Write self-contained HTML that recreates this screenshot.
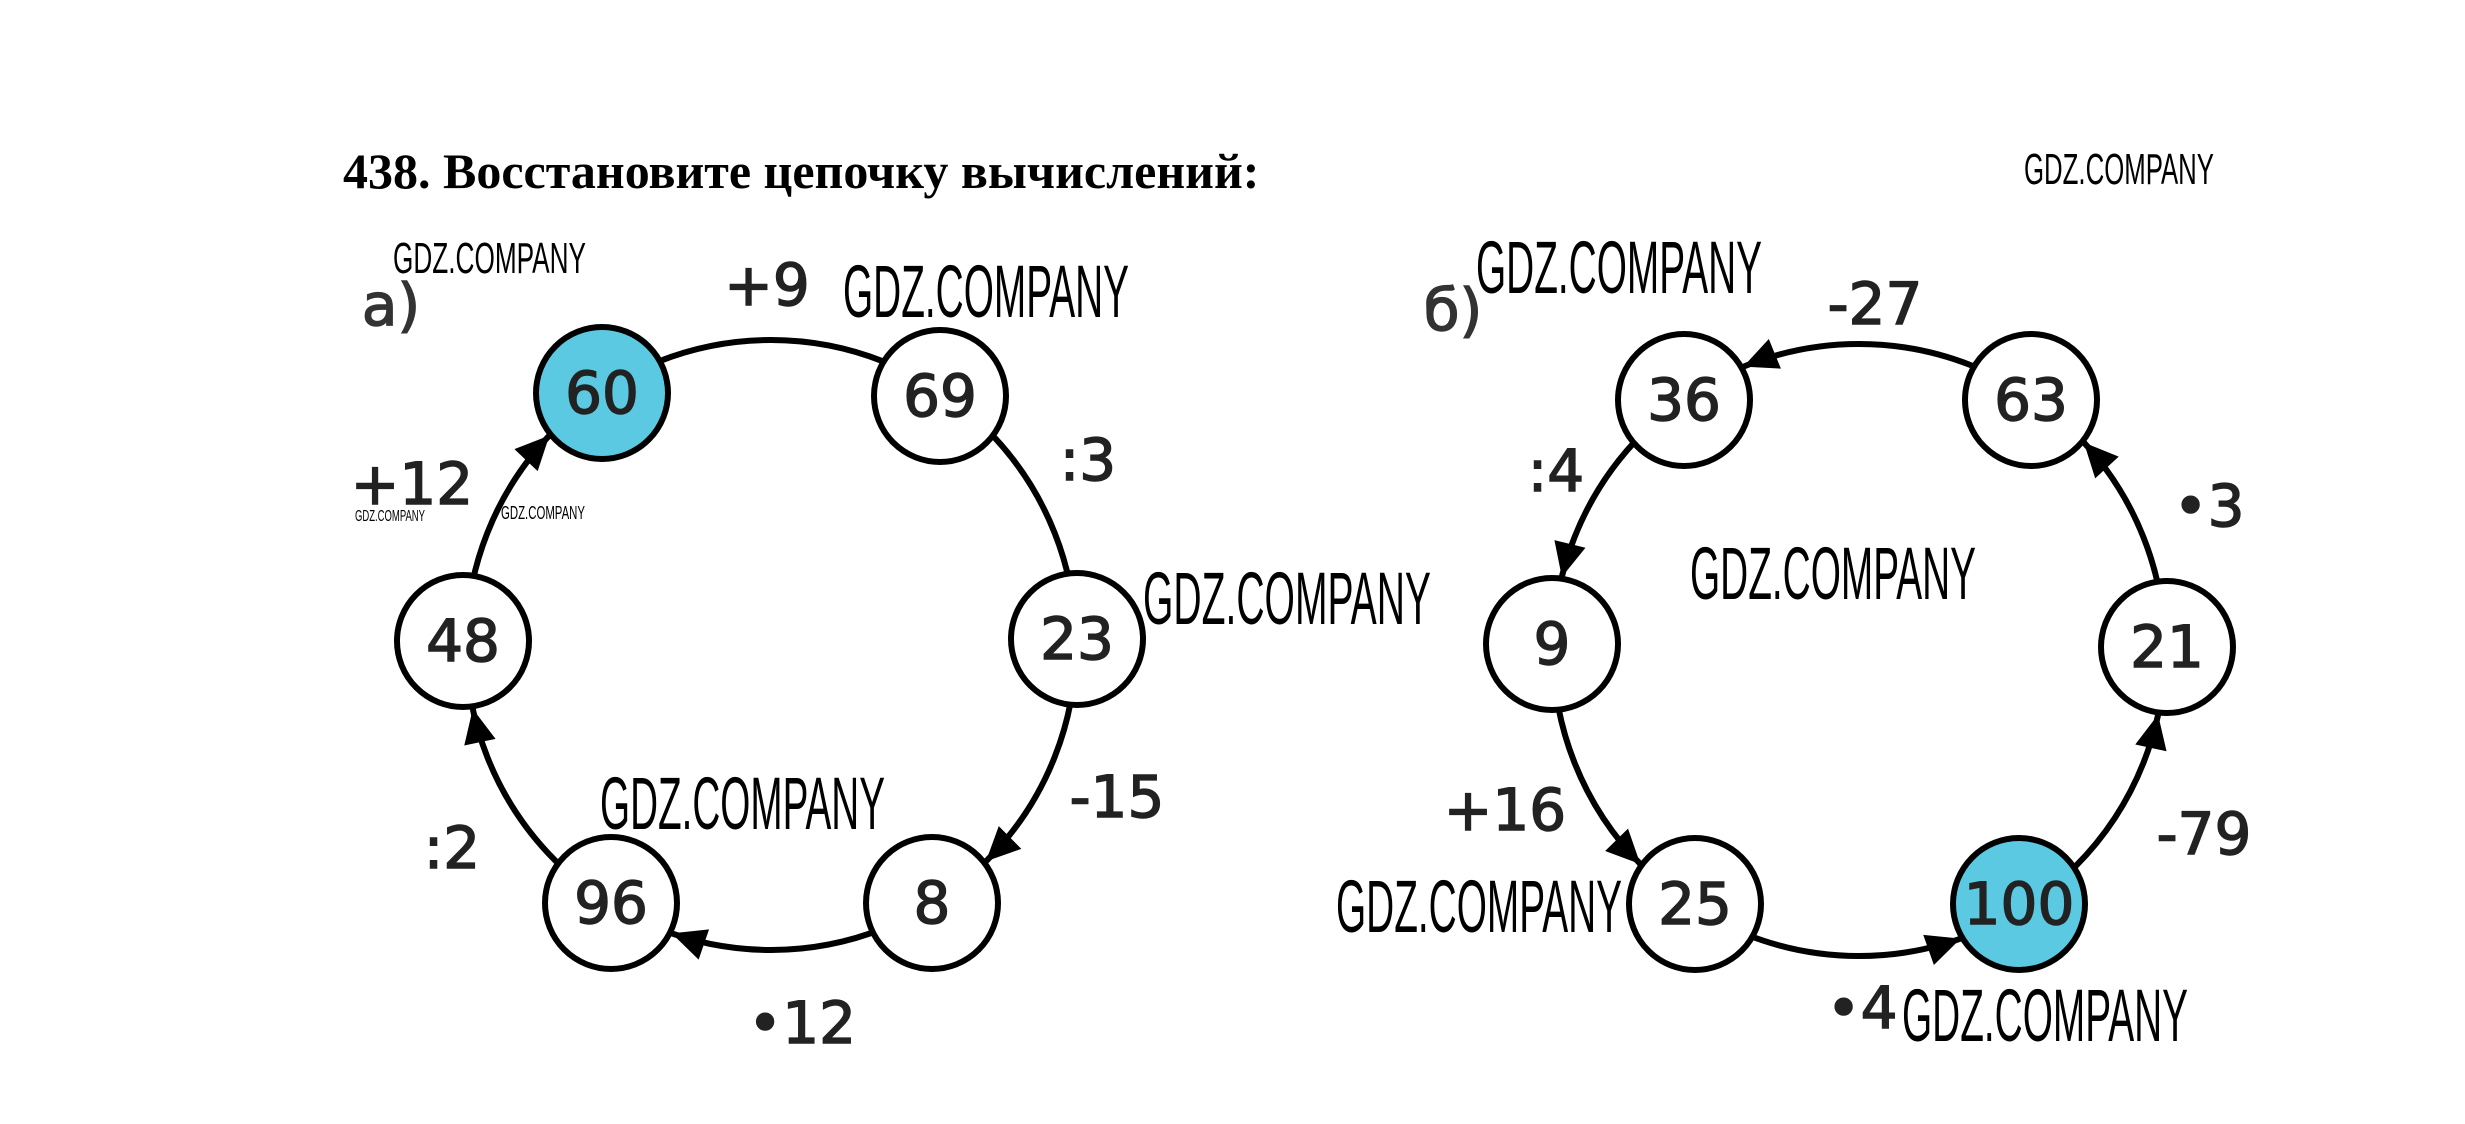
<!DOCTYPE html>
<html><head><meta charset="utf-8"><style>
html,body{margin:0;padding:0;background:#fff;}
svg{display:block}
</style></head><body>
<svg width="2465" height="1124" viewBox="0 0 2465 1124" xmlns="http://www.w3.org/2000/svg">
<rect width="2465" height="1124" fill="#fff"/>
<text x="343" y="188" font-family="Liberation Serif, serif" font-weight="bold" font-size="50" fill="#000">438. Восстановите цепочку вычислений:</text>

<g transform="translate(-9,-5)">
<circle cx="780" cy="650" r="305" fill="none" stroke="#000" stroke-width="6"/>
<g fill="#000">
<polygon points="1085,650 1069,616 1101,616" transform="rotate(-43 780 650)"/>
<polygon points="1085,650 1069,616 1101,616" transform="rotate(11.7 780 650)"/>
<polygon points="1085,650 1069,616 1101,616" transform="rotate(45.2 780 650)"/>
<polygon points="1085,650 1069,616 1101,616" transform="rotate(109 780 650)"/>
<polygon points="1085,650 1069,616 1101,616" transform="rotate(167.9 780 650)"/>
<polygon points="1085,650 1069,616 1101,616" transform="rotate(223.4 780 650)"/>
</g>
<g stroke="#000" stroke-width="6">
<circle cx="611" cy="398" r="66" fill="#5cc9e2"/>
<circle cx="949" cy="401" r="66" fill="#fff"/>
<circle cx="1086" cy="644" r="66" fill="#fff"/>
<circle cx="941" cy="908" r="66" fill="#fff"/>
<circle cx="620" cy="908" r="66" fill="#fff"/>
<circle cx="472" cy="646" r="66" fill="#fff"/>
</g>
<g font-family="DejaVu Sans, sans-serif" font-size="58" text-anchor="middle" fill="#222" stroke="#222" stroke-width="1.5">
<text x="611" y="418">60</text>
<text x="949" y="421">69</text>
<text x="1086" y="664">23</text>
<text x="941" y="928">8</text>
<text x="620" y="928">96</text>
<text x="472" y="666">48</text>
<text x="400" y="330" fill="#333" stroke="#333">a)</text>
<text x="776" y="310">+9</text>
<text x="1097" y="485">:3</text>
<text x="1126" y="822">-15</text>
<text x="811" y="1048">•12</text>
<text x="461" y="873">:2</text>
<text x="421" y="509">+12</text>
</g>
</g>

<g transform="translate(-19,-5)">
<circle cx="1878" cy="655" r="306" fill="none" stroke="#000" stroke-width="6"/>
<g fill="#000">
<polygon points="2184,655 2168,689 2200,689" transform="rotate(12.2 1878 655)"/>
<polygon points="2184,655 2168,689 2200,689" transform="rotate(-42.7 1878 655)"/>
<polygon points="2184,655 2168,689 2200,689" transform="rotate(-112.2 1878 655)"/>
<polygon points="2184,655 2168,689 2200,689" transform="rotate(193.8 1878 655)"/>
<polygon points="2184,655 2168,689 2200,689" transform="rotate(135.6 1878 655)"/>
<polygon points="2184,655 2168,689 2200,689" transform="rotate(70.6 1878 655)"/>
</g>
<g stroke="#000" stroke-width="6">
<circle cx="1703" cy="405" r="66" fill="#fff"/>
<circle cx="2050" cy="405" r="66" fill="#fff"/>
<circle cx="1571" cy="649" r="66" fill="#fff"/>
<circle cx="2186" cy="652" r="66" fill="#fff"/>
<circle cx="1714" cy="909" r="66" fill="#fff"/>
<circle cx="2038" cy="909" r="66" fill="#5cc9e2"/>
</g>
<g font-family="DejaVu Sans, sans-serif" font-size="58" text-anchor="middle" fill="#222" stroke="#222" stroke-width="1.5">
<text x="1703" y="425">36</text>
<text x="2050" y="425">63</text>
<text x="1571" y="669">9</text>
<text x="2186" y="672">21</text>
<text x="1714" y="929">25</text>
<text x="2038" y="929">100</text>
<text x="1472" y="335" fill="#333" stroke="#333">б)</text>
<text x="1894" y="329">-27</text>
<text x="1575" y="496">:4</text>
<text x="2228" y="531">•3</text>
<text x="2223" y="859">-79</text>
<text x="1524" y="835">+16</text>
<text x="1881" y="1033">•4</text>
</g>
</g>

<g font-family="Liberation Sans Narrow, Liberation Sans, sans-serif" fill="#000" transform="translate(-11,-5)">
<text x="2035" y="189" font-size="44" textLength="190" lengthAdjust="spacingAndGlyphs">GDZ.COMPANY</text>
<text x="404" y="278" font-size="44" textLength="193" lengthAdjust="spacingAndGlyphs">GDZ.COMPANY</text>
<text x="854" y="322" font-size="74" textLength="286" lengthAdjust="spacingAndGlyphs">GDZ.COMPANY</text>
<text x="1154" y="629" font-size="74" textLength="288" lengthAdjust="spacingAndGlyphs">GDZ.COMPANY</text>
<text x="611" y="834" font-size="74" textLength="285" lengthAdjust="spacingAndGlyphs">GDZ.COMPANY</text>
<text x="1487" y="298" font-size="74" textLength="286" lengthAdjust="spacingAndGlyphs">GDZ.COMPANY</text>
<text x="1701" y="604" font-size="74" textLength="286" lengthAdjust="spacingAndGlyphs">GDZ.COMPANY</text>
<text x="1347" y="937" font-size="74" textLength="286" lengthAdjust="spacingAndGlyphs">GDZ.COMPANY</text>
<text x="1913" y="1046" font-size="74" textLength="286" lengthAdjust="spacingAndGlyphs">GDZ.COMPANY</text>
<text x="366" y="526" font-size="16" textLength="70" lengthAdjust="spacingAndGlyphs">GDZ.COMPANY</text>
<text x="512" y="524" font-size="18" textLength="84" lengthAdjust="spacingAndGlyphs">GDZ.COMPANY</text>
</g>
</svg>
</body></html>
